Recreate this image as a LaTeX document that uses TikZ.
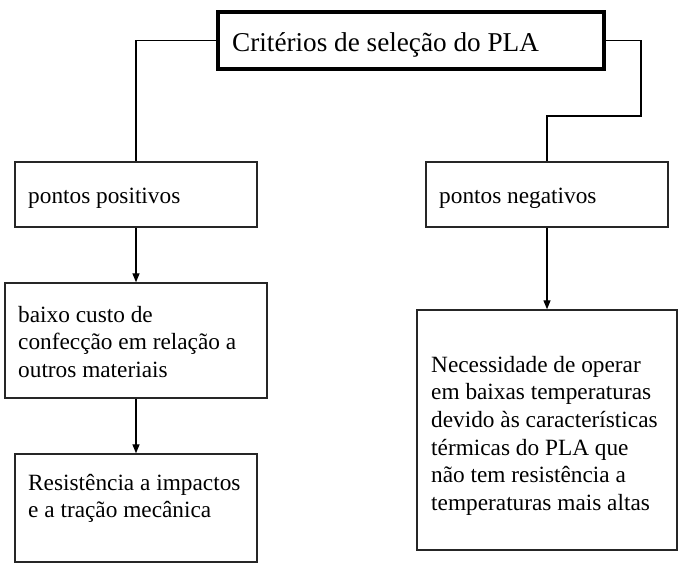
\documentclass[tikz,border=0pt]{standalone}
\usepackage{fontspec}
\setmainfont{Liberation Serif}
\usetikzlibrary{arrows.meta}
\tikzset{
  box/.style={draw=black!85, line width=1.4pt, rectangle, inner sep=0pt},
  titlebox/.style={draw=black, line width=3.2pt, rectangle, inner sep=0pt},
  bodytext/.style={inner sep=0pt, align=left, font=\fontsize{23.3}{27.6}\selectfont},
  titletext/.style={inner sep=0pt, font=\fontsize{27.2}{32}\selectfont},
  link/.style={line width=1.3pt, draw=black},
  arr/.style={link, -{Triangle[length=9pt,width=7pt]}}
}
\begin{document}
\begin{tikzpicture}[x=1pt,y=-1pt]
\fill[white] (0,0) rectangle (685,573);
\useasboundingbox (0,0) rectangle (685,573);
% boxes
\node[titlebox, minimum width=386pt, minimum height=57pt] (title) at (411,40.5) {};
\node[box, minimum width=242pt, minimum height=65pt] (pos) at (136,194.5) {};
\node[box, minimum width=242pt, minimum height=65pt] (neg) at (547,194.5) {};
\node[box, minimum width=262pt, minimum height=115pt] (baixo) at (136,340.5) {};
\node[box, minimum width=242pt, minimum height=108pt] (resist) at (136,508) {};
\node[box, minimum width=260pt, minimum height=240pt] (necess) at (547,430) {};
% texts
\node[titletext, anchor=base west] (ttitle) at (232,51) {Critérios de seleção do PLA};
\node[bodytext, anchor=base west] (tpos) at (28,203) {pontos positivos};
\node[bodytext, anchor=base west] (tneg) at (439,203) {pontos negativos};
\node[bodytext, anchor=north west] (tbaixo) at (18,302.7) {\strut baixo custo de\\confecção em relação a\\outros materiais};
\node[bodytext, anchor=north west] (tresist) at (28,470.7) {\strut Resistência a impactos\\e a tração mecânica};
\node[bodytext, anchor=north west] (tnecess) at (431,352.7) {\strut Necessidade de operar\\em baixas temperaturas\\devido às características\\térmicas do PLA que\\não tem resistência a\\temperaturas mais altas};
% connectors
\coordinate (relbow) at (641,116);
\draw[link] (title.west) -| (pos.north);
\draw[link] (title.east) -| (relbow) -| (neg.north);
\draw[arr] (pos.south) -- (baixo.north);
\draw[arr] (baixo.south) -- (resist.north);
\draw[arr] (neg.south) -- (necess.north);
\end{tikzpicture}
\end{document}
